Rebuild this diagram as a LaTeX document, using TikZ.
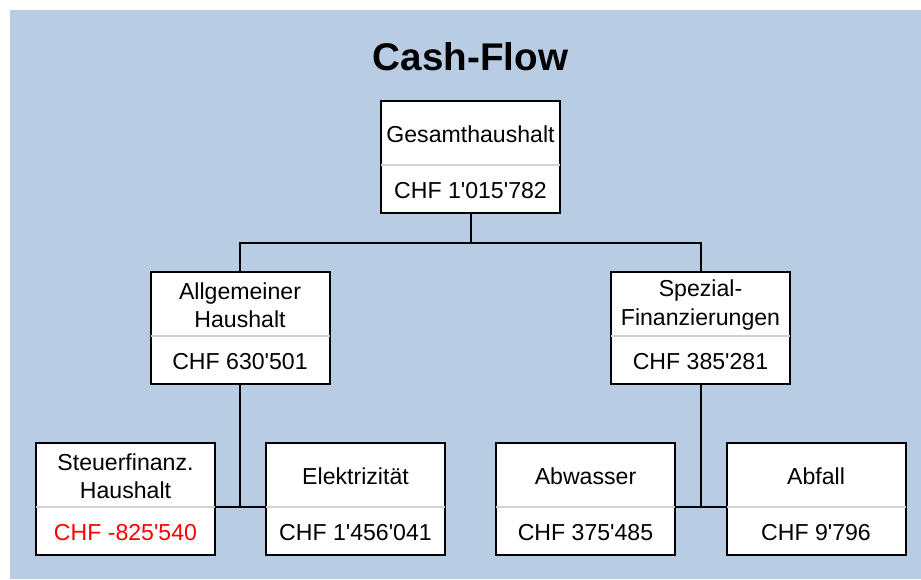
\documentclass[tikz,border=0pt]{standalone}
\usepackage{fontspec}
\setmainfont{Liberation Sans}
\definecolor{bgblue}{RGB}{184,204,228}
\definecolor{sepgray}{RGB}{210,210,210}
\tikzstyle{fb}=[rectangle,draw=black,line width=2pt,fill=white,minimum width=179pt,minimum height=112pt,inner sep=0pt]
\tikzstyle{tx}=[align=center,inner sep=0pt,font=\fontsize{23.1}{28.5}\selectfont]
\tikzstyle{sp}=[draw=sepgray,line width=2pt,shorten <=1pt,shorten >=1pt]
\tikzstyle{ln}=[draw=black,line width=2pt]
\newcommand{\apo}{\textquotesingle}
\newcommand{\finbox}[4]{%
\node[fb] (#1) at (#2) {};
\coordinate (#1l) at ([yshift=-65pt]#1.north west);
\coordinate (#1r) at ([yshift=-65pt]#1.north east);
\draw[sp] (#1l) -- (#1r);
\node[tx] (#1t) at ([yshift=-34pt]#1.north) {#3};
\node[tx] (#1v) at ([yshift=-91pt]#1.north) {#4};}

\begin{document}
\begin{tikzpicture}[x=1pt,y=-1pt]
\useasboundingbox (0,0) rectangle (921,579);
\fill[bgblue] (10,10) rectangle (921,579);
\node[font=\bfseries\fontsize{38.6}{46}\selectfont] (title) at (470.5,57) {Cash-Flow};
\finbox{ges}{470.5,157}{Gesamthaushalt}{CHF 1\apo015\apo782}
\finbox{alg}{240,328}{Allgemeiner\\Haushalt}{CHF 630\apo501}
\finbox{spz}{700.5,328}{Spezial-\\Finanzierungen}{CHF 385\apo281}
\finbox{stf}{125.5,499}{Steuerfinanz.\\Haushalt}{\color{red}CHF -825\apo540}
\finbox{elk}{355.5,499}{Elektrizität}{CHF 1\apo456\apo041}
\finbox{abw}{585.5,499}{Abwasser}{CHF 375\apo485}
\finbox{abf}{816,499}{Abfall}{CHF 9\apo796}
\draw[ln] (ges.south) -- ++(0,29) coordinate (gesj);
\draw[ln] (alg.north) |- (gesj) -| (spz.north);
\draw[ln] (alg.south) -- (alg.south |- stfr);
\draw[ln] (stfr) -- (elkl);
\draw[ln] (spz.south) -- (spz.south |- abwr);
\draw[ln] (abwr) -- (abfl);
\end{tikzpicture}
\end{document}
